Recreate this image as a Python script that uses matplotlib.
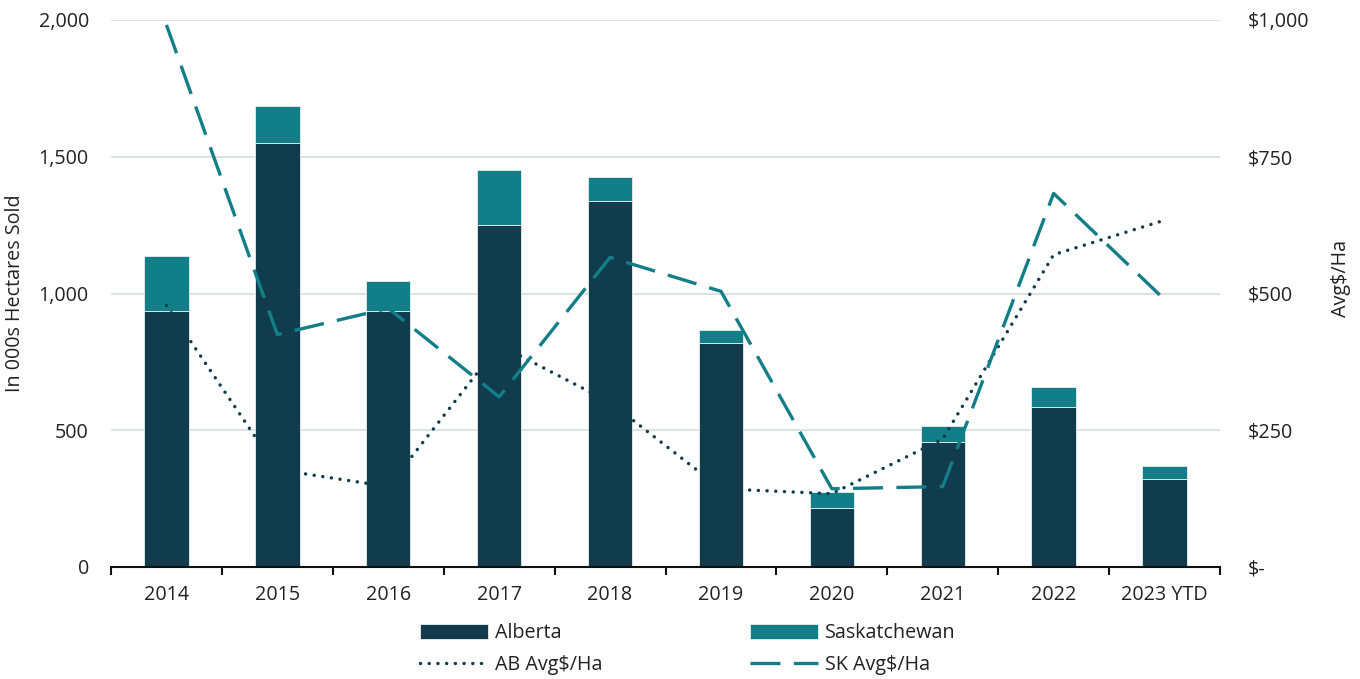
import matplotlib
matplotlib.use("Agg")
import matplotlib.pyplot as plt
import numpy as np
from matplotlib.ticker import FuncFormatter, FixedLocator

plt.rcParams['font.family'] = ['Open Sans', 'DejaVu Sans']

years = ["2014", "2015", "2016", "2017", "2018", "2019", "2020", "2021", "2022", "2023 YTD"]
alberta = [936, 1550, 936, 1250, 1340, 819, 217, 458, 584, 322]
saskatchewan = [201, 136, 110, 202, 87, 49, 56, 59, 74, 47]
ab_avg = [478, 178, 147, 406, 301, 143, 134, 234, 571, 634]
sk_avg = [991, 425, 473, 311, 566, 504, 143, 147, 683, 489]

c_ab = "#103c4e"
c_sk = "#127f88"
txt = "#222222"
fs = 14.2

fig = plt.figure(figsize=(13.6, 6.79), dpi=100)
L, R, T, B = 111, 1220, 20, 567
ax = fig.add_axes([L/1360, 1-B/679, (R-L)/1360, (B-T)/679])
x = np.arange(len(years))

b1 = ax.bar(x, alberta, width=0.4, color=c_ab, edgecolor="#e8eeee", linewidth=0.6, label="Alberta", zorder=2)
b2 = ax.bar(x, saskatchewan, width=0.4, bottom=alberta, color=c_sk, edgecolor="#e8eeee", linewidth=0.6, label="Saskatchewan", zorder=2)

ax.set_ylim(0, 2000)
ax.set_xlim(-0.5, len(years)-0.5)
ax.set_yticks([0, 500, 1000, 1500, 2000])
ax.yaxis.set_major_formatter(FuncFormatter(lambda v, p: f"{int(v):,}"))
ax.grid(axis='y', color="#d9e0e0", linewidth=1.3, zorder=0)
ax.set_axisbelow(True)
for s in ['top', 'right', 'left']:
    ax.spines[s].set_visible(False)
ax.spines['bottom'].set_color("#111111")
ax.spines['bottom'].set_linewidth(1.5)
ax.spines['bottom'].set_zorder(5)
ax.set_xticks(x)
ax.set_xticklabels(years, fontsize=fs, color=txt)
ax.tick_params(axis='x', which='major', length=0, pad=13)
ax.xaxis.set_minor_locator(FixedLocator(np.arange(-0.5, len(years), 1.0)))
ax.tick_params(axis='x', which='minor', length=6, width=1.5, color="#111111", direction='out')
ax.tick_params(axis='y', length=0, labelsize=fs, labelcolor=txt, pad=16)
ax.set_ylabel("In 000s Hectares Sold", fontsize=fs, color=txt)
ax.yaxis.set_label_coords((25-L)/(R-L), 0.5)

ax2 = ax.twinx()
ax2.set_ylim(0, 1000)
ax2.set_yticks([0, 250, 500, 750, 1000])
ax2.yaxis.set_major_formatter(FuncFormatter(lambda v, p: "$-" if v == 0 else f"${int(v):,}"))
ax2.tick_params(axis='y', length=0, labelsize=fs, labelcolor=txt, pad=20)
for s in ['top', 'right', 'left', 'bottom']:
    ax2.spines[s].set_visible(False)
ax2.set_ylabel("Avg$/Ha", fontsize=fs, color=txt, rotation=90)
ax2.yaxis.set_label_coords((1331-L)/(R-L), (B-278)/(B-T))

l1, = ax2.plot(x, ab_avg, color=c_ab, linewidth=2.5, linestyle=(0, (0.01, 2.5)),
               dash_capstyle='round', label="AB Avg$/Ha", zorder=3)
l2, = ax2.plot(x, sk_avg, color=c_sk, linewidth=2.4, linestyle=(0, (9, 4)),
               label="SK Avg$/Ha", zorder=3)

fig.legend([b1, l1, b2, l2], ["Alberta", "AB Avg$/Ha", "Saskatchewan", "SK Avg$/Ha"],
           ncol=2, loc='center', bbox_to_anchor=(688/1360, 1-649/679), frameon=False,
           fontsize=fs, handlelength=3.45, handleheight=0.8, columnspacing=7.45,
           labelspacing=0.6, handletextpad=0.36, labelcolor=txt, borderpad=0)

fig.savefig("out.png", dpi=100)
